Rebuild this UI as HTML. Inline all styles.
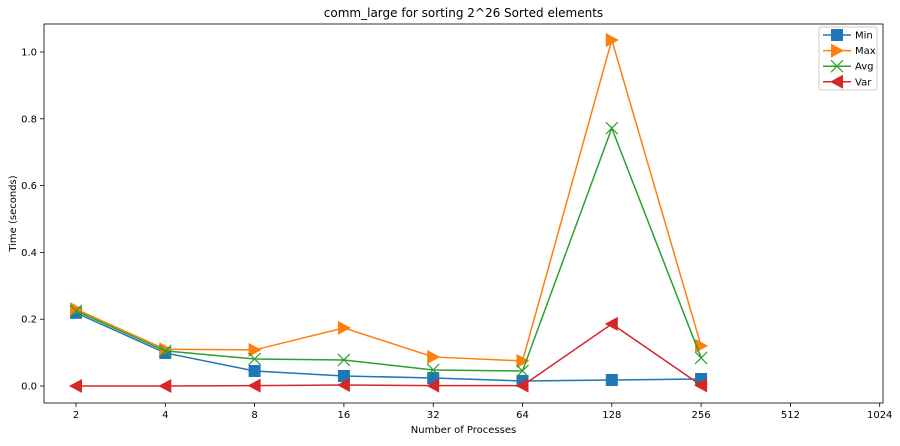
<!DOCTYPE html>
<html><head><meta charset="utf-8"><style>body{margin:0;background:#fff}svg{font-family:"DejaVu Sans","Liberation Sans",sans-serif}</style></head>
<body>
<svg id="c" width="900" height="441" xmlns="http://www.w3.org/2000/svg"></svg>
<script>
const categories=["2","4","8","16","32","64","128","256","512","1024"];
const minVals=[0.219,0.099,0.045,0.030,0.024,0.015,0.018,0.021];
const maxVals=[0.230,0.110,0.108,0.174,0.087,0.075,1.036,0.120];
const avgVals=[0.225,0.105,0.081,0.078,0.048,0.045,0.772,0.084];
const varVals=[0.000,0.000,0.001,0.003,0.001,0.001,0.186,0.002];
const yTicks=[0.0,0.2,0.4,0.6,0.8,1.0];
const L=44,R=883,T=24,B=403;
const x=i=>76+i*89.3;
const y=v=>386-v*334;
const svg=document.getElementById('c');
const NS='http://www.w3.org/2000/svg';
function mk(t,a,p){const e=document.createElementNS(NS,t);for(const k in a)e.setAttribute(k,a[k]);(p||svg).appendChild(e);return e;}
let e;
e=mk('rect',{x:L,y:T,width:R-L,height:B-T,fill:'none',stroke:'#000','stroke-width':0.8});


e=mk('text',{x:(L+R)/2,y:17,'text-anchor':'middle','font-size':12});e.textContent='comm_large for sorting 2^26 Sorted elements';


categories.forEach((c,i)=>{mk('line',{x1:x(i),x2:x(i),y1:B,y2:B+4,stroke:'#000','stroke-width':0.8});
e=mk('text',{x:x(i),y:B+15,'text-anchor':'middle','font-size':10});e.textContent=c;

});
yTicks.forEach(v=>{mk('line',{x1:L-4,x2:L,y1:y(v),y2:y(v),stroke:'#000','stroke-width':0.8});
e=mk('text',{x:L-7,y:y(v)+3.5,'text-anchor':'end','font-size':10});e.textContent=v.toFixed(1);

});
e=mk('text',{x:(L+R)/2,y:433,'text-anchor':'middle','font-size':10});e.textContent='Number of Processes';


e=mk('text',{x:16,y:(T+B)/2,'text-anchor':'middle','font-size':10,transform:`rotate(-90 16 ${(T+B)/2})`});e.textContent='Time (seconds)';


function marker(kind,cx,cy,col,g){
 if(kind==='s')mk('rect',{x:cx-6,y:cy-6,width:12,height:12,fill:col},g);
 else if(kind==='r')mk('polygon',{points:`${cx+7},${cy} ${cx-6},${cy-7} ${cx-6},${cy+7}`,fill:col},g);
 else if(kind==='l')mk('polygon',{points:`${cx-7},${cy} ${cx+6},${cy-7} ${cx+6},${cy+7}`,fill:col},g);
 else mk('path',{d:`M${cx-6} ${cy-6}L${cx+6} ${cy+6}M${cx-6} ${cy+6}L${cx+6} ${cy-6}`,stroke:col,'stroke-width':1.2,fill:'none'},g);
}
const series=[["Min",minVals,'#1f77b4','s'],["Max",maxVals,'#ff7f0e','r'],["Avg",avgVals,'#2ca02c','x'],["Var",varVals,'#d62728','l']];
series.forEach(([n,vals,col,k])=>{
 const g=mk('g',{});
 
 
 mk('polyline',{points:vals.map((v,i)=>x(i)+','+y(v)).join(' '),fill:'none',stroke:col,'stroke-width':1.5},g);
 vals.forEach((v,i)=>marker(k,x(i),y(v),col,g));
});
const lg=mk('g',{});


mk('rect',{x:819,y:27,width:58,height:63,fill:'#fff',stroke:'#ccc',rx:2},lg);
series.forEach(([n,vals,col,k],i)=>{
 const ly=35+i*15.6;
 const g=mk('g',{},lg);
 
 
 mk('line',{x1:823,x2:851,y1:ly,y2:ly,stroke:col,'stroke-width':1.5},g);
 marker(k,837,ly,col,g);
 const t=mk('text',{x:855,y:ly+3.5,'font-size':10},g);t.textContent=n;
});
</script>
</body></html>
